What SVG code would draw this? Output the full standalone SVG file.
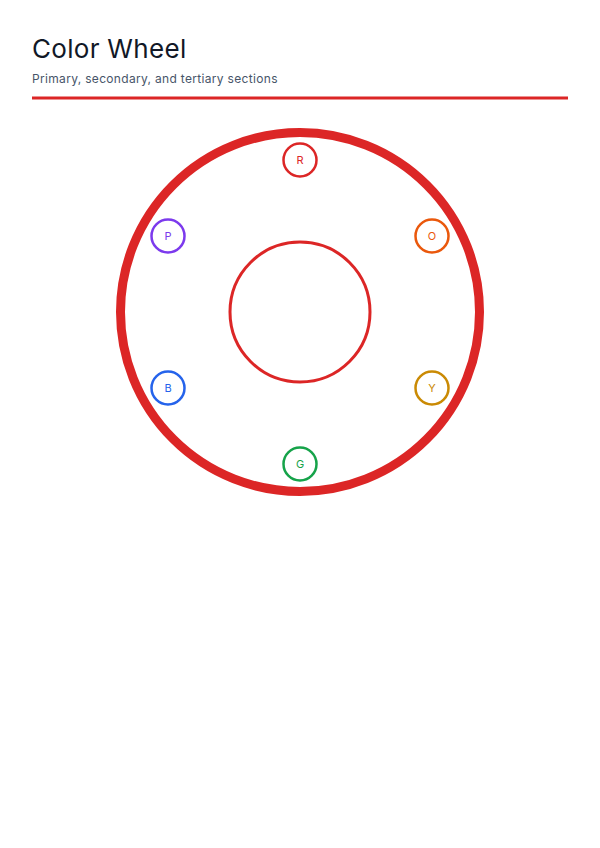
<svg xmlns="http://www.w3.org/2000/svg" width="600" height="848" viewBox="0 0 600 848">
<style>
.title{font-family:Inter,"Liberation Sans",sans-serif;font-size:26px;fill:#111827;letter-spacing:0.3px}
.sub{font-family:Inter,"Liberation Sans",sans-serif;font-size:12px;fill:#475569;letter-spacing:0.32px}
.node circle{fill:#fff;stroke-width:2.5}
.node text{font-family:Inter,"Liberation Sans",sans-serif;font-size:11px;text-anchor:middle;dominant-baseline:central}
</style>
<rect width="600" height="848" fill="#fff"/>
<text class="title" x="32" y="58">Color Wheel</text>
<text class="sub" x="32" y="82.5">Primary, secondary, and tertiary sections</text>
<rect x="32" y="96.5" width="536" height="3" fill="#dc2626"/>
<g id="wheel">
<circle cx="300" cy="312" r="179.5" fill="none" stroke="#dc2626" stroke-width="9"/>
<circle cx="300" cy="312" r="70" fill="none" stroke="#dc2626" stroke-width="3"/>
</g>
<g id="connectors"></g>
<g id="R" class="node"><circle cx="300" cy="160" r="16.5" stroke="#dc2626"/><text x="300" y="160" fill="#dc2626">R</text></g>
<g id="O" class="node"><circle cx="432" cy="236" r="16.5" stroke="#ea580c"/><text x="432" y="236" fill="#ea580c">O</text></g>
<g id="Y" class="node"><circle cx="432" cy="388" r="16.5" stroke="#ca8a04"/><text x="432" y="388" fill="#ca8a04">Y</text></g>
<g id="G" class="node"><circle cx="300" cy="464" r="16.5" stroke="#16a34a"/><text x="300" y="464" fill="#16a34a">G</text></g>
<g id="B" class="node"><circle cx="168" cy="388" r="16.5" stroke="#2563eb"/><text x="168" y="388" fill="#2563eb">B</text></g>
<g id="P" class="node"><circle cx="168" cy="236" r="16.5" stroke="#7c3aed"/><text x="168" y="236" fill="#7c3aed">P</text></g>
</svg>
